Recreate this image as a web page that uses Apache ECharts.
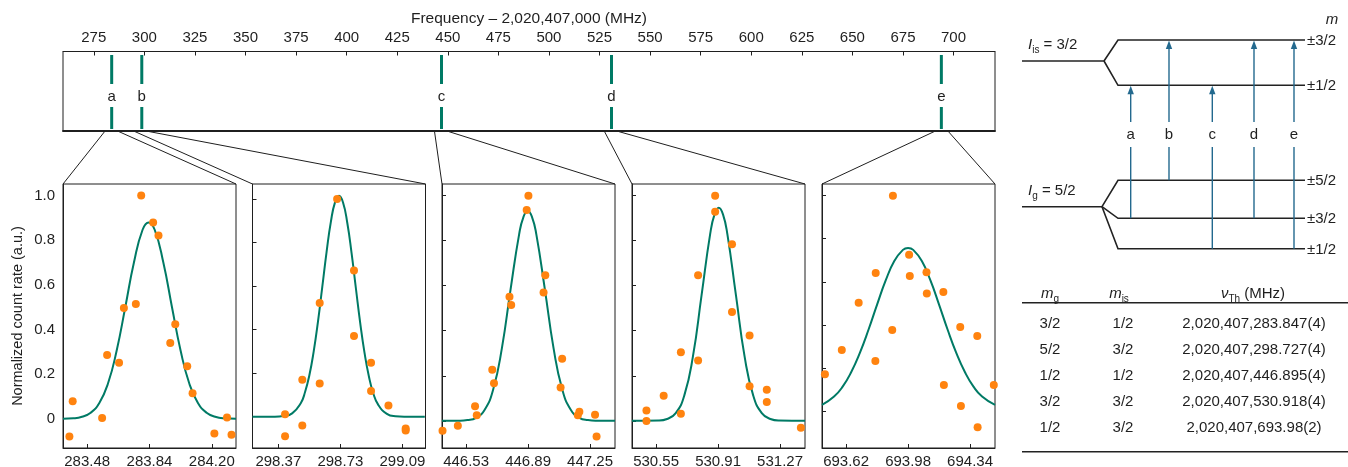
<!DOCTYPE html>
<html><head><meta charset="utf-8">
<script src="https://cdn.jsdelivr.net/npm/echarts@6/dist/echarts.min.js"></script>
<style>html,body{margin:0;padding:0;background:#fff}#c{width:1348px;height:467px}</style>
</head><body><div id="c"></div>
<script>
// ---------- data ----------
const overviewTicks = [275,300,325,350,375,400,425,450,475,500,525,550,575,600,625,650,675,700];
const lineLabels = ['a','b','c','d','e'];
const lineFreqs = [283.847, 298.727, 446.895, 530.918, 693.98];

const yTicks = [0, 0.2, 0.4, 0.6, 0.8, 1.0];

const aTicks = [283.48, 283.84, 284.20];
const aX = [283.377,283.396,283.566,283.595,283.664,283.692,283.761,283.792,283.861,283.892,283.960,283.989,284.058,284.089,284.215,284.288,284.314];
const aY = [-0.079,0.078,0.003,0.286,0.251,0.496,0.514,1.0,0.879,0.821,0.339,0.423,0.235,0.114,-0.066,0.006,-0.072];
const aFitX = [283.34,283.40,283.45,283.50,283.55,283.60,283.65,283.70,283.75,283.80,283.835,283.87,283.92,283.97,284.02,284.07,284.12,284.17,284.22,284.27,284.34];
const aFitY = [0.000,0.002,0.009,0.027,0.071,0.158,0.305,0.500,0.700,0.847,0.880,0.847,0.700,0.500,0.305,0.158,0.071,0.027,0.009,0.002,0.000];

const bTicks = [298.37, 298.73, 299.09];
const bX = [298.409,298.409,298.509,298.509,298.610,298.610,298.711,298.809,298.809,298.908,298.908,299.009,299.109,299.109];
const bY = [-0.090,0.011,-0.041,0.170,0.522,0.152,1.0,0.671,0.371,0.248,0.118,0.051,-0.054,-0.064];
const bFitX = [298.22,298.35,298.40,298.45,298.50,298.525,298.55,298.575,298.60,298.625,298.65,298.675,298.70,298.722,298.745,298.77,298.795,298.82,298.845,298.87,298.895,298.92,298.95,299.00,299.05,299.10,299.22];
const bFitY = [0,0,0.003,0.015,0.062,0.113,0.19,0.299,0.437,0.596,0.757,0.896,0.988,1.015,0.985,0.891,0.751,0.590,0.431,0.294,0.187,0.110,0.054,0.013,0.002,0,0];

const cTicks = [446.53, 446.89, 447.25];
const cX = [446.393,446.482,446.582,446.592,446.682,446.692,446.782,446.792,446.882,446.892,446.980,446.990,447.088,447.079,447.179,447.188,447.279,447.288];
const cY = [-0.044,-0.022,0.064,0.025,0.227,0.167,0.551,0.514,0.936,1.0,0.570,0.647,0.276,0.148,0.025,0.040,0.027,-0.070];
const cFitX = [446.39,446.488,446.538,446.588,446.638,446.688,446.738,446.788,446.838,446.863,446.888,446.913,446.938,446.988,447.038,447.088,447.138,447.188,447.238,447.288,447.395];
const cFitY = [0,0.0005,0.003,0.013,0.049,0.141,0.323,0.582,0.828,0.905,0.932,0.905,0.828,0.582,0.323,0.141,0.049,0.013,0.003,0.0005,0];

const dTicks = [530.55, 530.91, 531.27];
const dX = [530.494,530.494,530.594,530.694,530.694,530.794,530.794,530.893,530.893,530.991,530.991,531.093,531.093,531.193,531.193,531.391];
const dY = [0.046,-0.001,0.111,0.304,0.031,0.647,0.268,1.0,0.929,0.784,0.483,0.379,0.153,0.138,0.083,-0.031];
const dFitX = [530.41,530.564,530.614,530.664,530.714,530.764,530.814,530.864,530.889,530.914,530.939,530.964,531.014,531.064,531.114,531.164,531.214,531.264,531.415];
const dFitY = [0,0.001,0.008,0.034,0.113,0.286,0.557,0.829,0.916,0.947,0.916,0.829,0.557,0.286,0.113,0.034,0.008,0.001,0];

const eTicks = [693.62, 693.98, 694.34];
const eX = [693.497,693.595,693.693,693.790,693.792,693.888,693.892,693.986,693.990,694.087,694.089,694.185,694.188,694.283,694.287,694.382,694.384,694.478];
const eY = [0.170,0.283,0.502,0.232,0.641,0.376,1.0,0.726,0.627,0.644,0.545,0.553,0.121,0.390,0.023,0.348,-0.076,0.121];
const eFitX = [693.48,693.55,693.60,693.65,693.70,693.75,693.80,693.85,693.90,693.95,693.98,694.01,694.06,694.11,694.16,694.21,694.26,694.31,694.36,694.41,694.485];
const eFitY = [0.028,0.067,0.113,0.181,0.270,0.377,0.494,0.606,0.696,0.748,0.757,0.748,0.696,0.606,0.494,0.377,0.270,0.181,0.113,0.067,0.028];

// table
const mG = ['3/2','5/2','1/2','3/2','1/2'];
const mIs = ['1/2','3/2','1/2','3/2','3/2'];
const nuTh = ['2,020,407,283.847(4)','2,020,407,298.727(4)','2,020,407,446.895(4)','2,020,407,530.918(4)','2,020,407,693.98(2)'];

// ---------- layout / style ----------
const FONT = '"Liberation Sans", Arial, Helvetica, sans-serif';
const INK = '#1f1f1f';
const TEAL = '#007a65';
const ORANGE = '#ff830f';
const ARROW = '#23698e';

const panels = [
  {x:aX, y:aY, fx:aFitX, fy:aFitY, ticks:aTicks, xr:[283.34,284.34], yr:[-0.131,1.052], left:63},
  {x:bX, y:bY, fx:bFitX, fy:bFitY, ticks:bTicks, xr:[298.22,299.224], yr:[-0.144,1.069], left:252.5},
  {x:cX, y:cY, fx:cFitX, fy:cFitY, ticks:cTicks, xr:[446.39,447.395], yr:[-0.121,1.052], left:442},
  {x:dX, y:dY, fx:dFitX, fy:dFitY, ticks:dTicks, xr:[530.41,531.415], yr:[-0.121,1.052], left:632},
  {x:eX, y:eY, fx:eFitX, fy:eFitY, ticks:eTicks, xr:[693.48,694.485], yr:[-0.172,1.054], left:822}
];
const PW = 173, PT = 184, PH = 264;

const grids = [{left:63, top:51.5, width:932, height:79, show:true, borderColor:INK, borderWidth:1, outerBoundsMode:'none', containLabel:false}];
const xAxes = [
  {type:'value', gridIndex:0, position:'top', min:259.78, max:720.5,
   axisLine:{show:true, onZero:false, lineStyle:{color:INK, width:1}},
   axisTick:{show:true, inside:true, length:4, customValues:overviewTicks, lineStyle:{color:INK}},
   axisLabel:{show:true, customValues:overviewTicks, fontSize:15, fontFamily:FONT, color:INK, margin:6},
   splitLine:{show:false},
   name:'Frequency – 2,020,407,000 (MHz)', nameLocation:'middle', nameGap:25,
   nameTextStyle:{fontSize:15.5, fontFamily:FONT, color:INK}},
  {type:'value', gridIndex:0, position:'bottom', min:259.78, max:720.5,
   axisLine:{show:true, onZero:false, lineStyle:{color:INK, width:2}}, axisTick:{show:false}, axisLabel:{show:false}, splitLine:{show:false}}
];
const yAxes = [{type:'value', gridIndex:0, min:0, max:1, show:false}];
const series = [{
  type:'custom', xAxisIndex:0, yAxisIndex:0, data: lineFreqs.map(f => [f, 0]),
  renderItem: function(params, api){
    const cs = params.coordSys;
    const x = api.coord([api.value(0), 0])[0];
    const t = cs.y;
    return {type:'group', children:[
      {type:'line', shape:{x1:x, y1:t+3.5, x2:x, y2:t+32.5}, style:{stroke:TEAL, lineWidth:3}},
      {type:'text', style:{text:lineLabels[params.dataIndex], x:x, y:t+45.5, align:'center', verticalAlign:'middle', fontSize:15, fontFamily:FONT, fill:INK}},
      {type:'line', shape:{x1:x, y1:t+55.5, x2:x, y2:t+77.5}, style:{stroke:TEAL, lineWidth:3}}
    ]};
  }
}];

panels.forEach((p, i) => {
  const gi = i + 1;
  grids.push({left:p.left, top:PT, width:PW, height:PH, show:true, borderColor:INK, borderWidth:1, outerBoundsMode:'none', containLabel:false});
  xAxes.push({type:'value', gridIndex:gi, min:p.xr[0], max:p.xr[1],
    axisLine:{show:true, onZero:false, lineStyle:{color:INK, width:1}},
    axisTick:{show:true, inside:true, length:4, customValues:p.ticks, lineStyle:{color:INK}},
    axisLabel:{show:true, customValues:p.ticks, formatter:v => v.toFixed(2), fontSize:15, fontFamily:FONT, color:INK, margin:6},
    splitLine:{show:false}});
  const ya = {type:'value', gridIndex:gi, min:p.yr[0], max:p.yr[1],
    axisLine:{show:true, onZero:false, lineStyle:{color:INK, width:1}},
    axisTick:{show:i>0, inside:true, length:4, customValues:yTicks, lineStyle:{color:INK}},
    axisLabel:{show:i===0, customValues:yTicks, formatter:v => v===0 ? '0' : v.toFixed(1), fontSize:15, fontFamily:FONT, color:INK, margin:8},
    splitLine:{show:false}};
  if (i === 0) {
    ya.name = 'Normalized count rate (a.u.)';
    ya.nameLocation = 'middle';
    ya.nameGap = 38;
    ya.nameRotate = 90;
    ya.nameTextStyle = {fontSize:14.5, fontFamily:FONT, color:INK};
  }
  yAxes.push(ya);
  series.push({type:'line', xAxisIndex:gi+1, yAxisIndex:gi, data:p.fx.map((v,k)=>[v, p.fy[k]]),
    smooth:0.5, showSymbol:false, symbol:'none', lineStyle:{color:TEAL, width:2}, clip:true, z:2});
  series.push({type:'scatter', xAxisIndex:gi+1, yAxisIndex:gi, data:p.x.map((v,k)=>[v, p.y[k]]),
    symbol:'circle', symbolSize:8, itemStyle:{color:ORANGE, opacity:1}, clip:true, z:3});
});

const chart = echarts.init(document.getElementById('c'), null, {renderer:'canvas'});
chart.setOption({animation:false, backgroundColor:'#fff', grid:grids, xAxis:xAxes, yAxis:yAxes, series:series});

// ---------- decorations: zoom connectors, level diagram, table ----------
const els = [];
lineFreqs.forEach((f, i) => {
  const base = chart.convertToPixel({xAxisIndex:0, yAxisIndex:0}, [f, 0]);
  const p = panels[i];
  const tl = chart.convertToPixel({xAxisIndex:i+2, yAxisIndex:i+1}, [p.xr[0], p.yr[1]]);
  const tr = chart.convertToPixel({xAxisIndex:i+2, yAxisIndex:i+1}, [p.xr[1], p.yr[1]]);
  els.push({type:'line', shape:{x1:base[0]-7, y1:base[1]+1, x2:tl[0], y2:tl[1]}, style:{stroke:INK, lineWidth:1}});
  els.push({type:'line', shape:{x1:base[0]+7, y1:base[1]+1, x2:tr[0], y2:tr[1]}, style:{stroke:INK, lineWidth:1}});
});

// energy-level diagram
const LV = {is:{'3/2':40, '1/2':85.3}, g:{'5/2':180.3, '3/2':218.3, '1/2':248.7}};
const lvStyle = {stroke:'#222', lineWidth:1.6, fill:null};
els.push({type:'polyline', shape:{points:[[1022,61],[1104,61]]}, style:lvStyle});
els.push({type:'polyline', shape:{points:[[1104,61],[1118,40],[1305,40]]}, style:lvStyle});
els.push({type:'polyline', shape:{points:[[1104,61],[1118,85.3],[1305,85.3]]}, style:lvStyle});
els.push({type:'polyline', shape:{points:[[1022,206.7],[1102,206.7]]}, style:lvStyle});
['5/2','3/2','1/2'].forEach(k => {
  els.push({type:'polyline', shape:{points:[[1102,206.7],[1118,LV.g[k]],[1305,LV.g[k]]]}, style:lvStyle});
});
const txt = (text, x, y, align, extra) => Object.assign({type:'text', style:Object.assign({text, x, y, align:align||'left', verticalAlign:'middle', fontSize:15, fontFamily:FONT, fill:INK}, extra||{})});
[['±3/2',40],['±1/2',85.3],['±5/2',180.3],['±3/2',218.3],['±1/2',248.7]].forEach(a => els.push(txt(a[0], 1307, a[1]+1, 'left')));
els.push(txt('m', 1332, 20, 'center', {fontStyle:'italic'}));
const richSub = {
  i:{fontStyle:'italic', fontSize:15, fontFamily:FONT, fill:INK, lineHeight:20},
  s:{fontSize:10, fontFamily:FONT, fill:INK, verticalAlign:'bottom', lineHeight:20, padding:[7,0,0,0]},
  n:{fontSize:15, fontFamily:FONT, fill:INK, lineHeight:20}
};
els.push({type:'text', style:{text:'{i|I}{s|is}{n| = 3/2}', x:1028, y:45, align:'left', verticalAlign:'middle', rich:richSub}});
els.push({type:'text', style:{text:'{i|I}{s|g}{n| = 5/2}', x:1028, y:191, align:'left', verticalAlign:'middle', rich:richSub}});
const arrowX = [1130.7, 1169, 1212.3, 1254, 1294];
lineLabels.forEach((lab, i) => {
  const x = arrowX[i];
  const y0 = LV.g[mG[i]], y1 = LV.is[mIs[i]];
  const st = {stroke:ARROW, lineWidth:1.4};
  els.push({type:'line', shape:{x1:x, y1:y0, x2:x, y2:147}, style:st});
  els.push({type:'line', shape:{x1:x, y1:122, x2:x, y2:y1+6}, style:st});
  els.push({type:'polygon', shape:{points:[[x-3.2,y1+9],[x+3.2,y1+9],[x,y1+0.5]]}, style:{fill:ARROW}});
  els.push(txt(lab, x, 135, 'center'));
});

// table
els.push({type:'text', style:{text:'{i|m}{s|g}', x:1050, y:294, align:'center', verticalAlign:'middle', rich:richSub}});
els.push({type:'text', style:{text:'{i|m}{s|is}', x:1119, y:294, align:'center', verticalAlign:'middle', rich:richSub}});
els.push({type:'text', style:{text:'{i|ν}{s|Th}{n| (MHz)}', x:1253, y:294, align:'center', verticalAlign:'middle', rich:richSub}});
els.push({type:'line', shape:{x1:1022, y1:302.7, x2:1348, y2:302.7}, style:{stroke:'#222', lineWidth:1.6}});
els.push({type:'line', shape:{x1:1022, y1:451.7, x2:1348, y2:451.7}, style:{stroke:'#222', lineWidth:1.6}});
const rowY = [324, 350, 376, 402.3, 428];
mG.forEach((v, r) => {
  els.push(txt(v, 1050, rowY[r], 'center'));
  els.push(txt(mIs[r], 1123, rowY[r], 'center'));
  els.push(txt(nuTh[r], 1254, rowY[r], 'center'));
});

chart.setOption({graphic:{elements:els}});
</script>
</body></html>
